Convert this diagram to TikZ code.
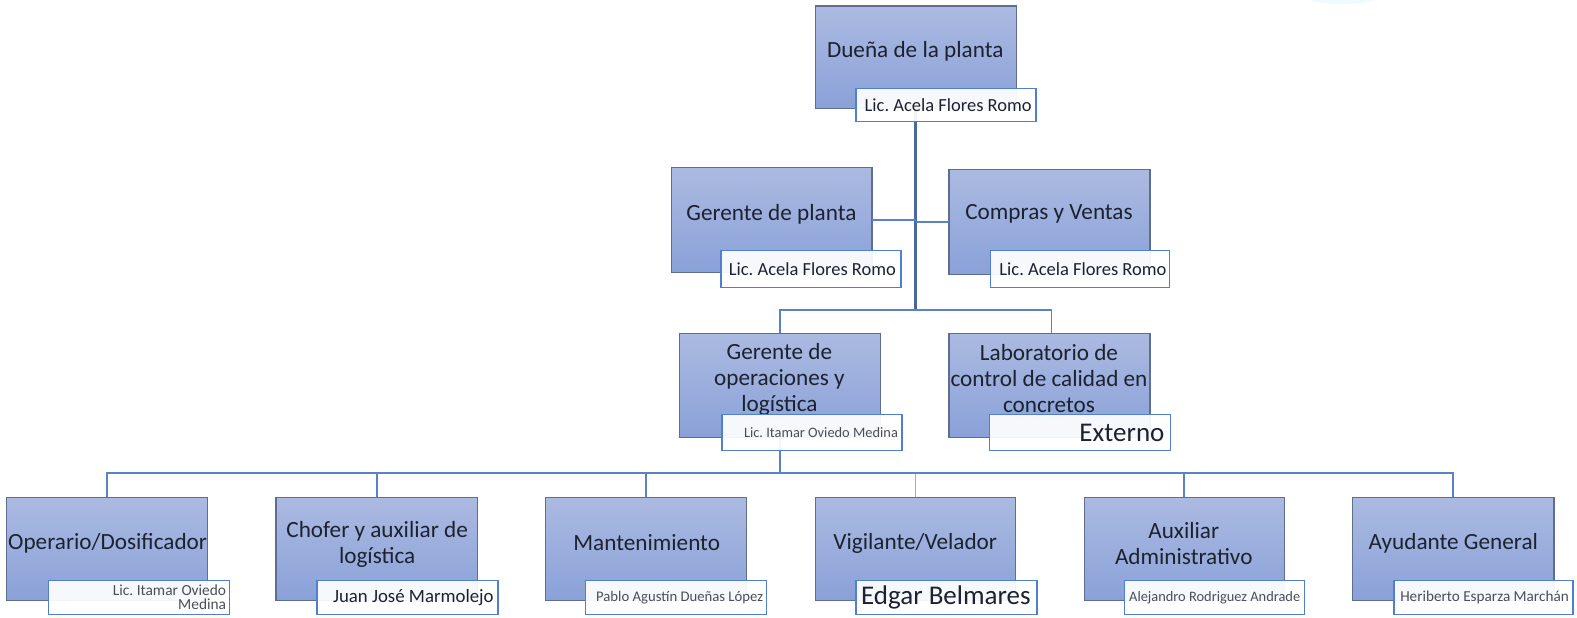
\documentclass[tikz,border=0pt]{standalone}
\usepackage{fontspec}
\setmainfont{Carlito}
\frenchspacing
\usetikzlibrary{calc,shadings}
\definecolor{boxtop}{HTML}{ABBAE1}
\definecolor{boxbot}{HTML}{8AA1D8}
\definecolor{boxline}{HTML}{5F6E90}
\definecolor{nameline}{HTML}{4F7FD0}
\definecolor{connline}{HTML}{5A82C6}
\definecolor{inktext}{HTML}{1C2230}
\definecolor{graytext}{HTML}{4A4E58}
\newcommand{\fs}[1]{\fontsize{#1}{#1}\selectfont}
\tikzset{
  unitbox/.style={draw=boxline,line width=1.3pt,top color=boxtop,bottom color=boxbot,inner sep=0pt,outer sep=0pt},
  unittext/.style={text=inktext,align=center,inner sep=0pt,font=\fs{23.2}},
  namebox/.style={draw=nameline,line width=1.5pt,fill=white,fill opacity=.93,inner sep=0pt,outer sep=0pt},
  nametext/.style={anchor=east,align=right,inner sep=0pt,text=inktext},
  conn/.style={draw=connline,line width=1.8pt},
  trunk/.style={draw=connline!80!black,line width=2.8pt}
}
% id, x0, y0, x1, y1, text x, text y, text
\newcommand{\unit}[8]{%
  \node[unitbox,minimum width=#4*1.0057pt-#2*1.0057pt,minimum height=#5*1.0057pt-#3*1.0057pt] (#1) at ({(#2+#4)/2},{(#3+#5)/2}) {};
  \node[unittext] (#1t) at (#6,#7) {#8};}
% id, x0, y0, x1, y1, text right x, style, text
\newcommand{\who}[8]{%
  \node[namebox,minimum width=#4*1.0057pt-#2*1.0057pt,minimum height=#5*1.0057pt-#3*1.0057pt] (#1) at ({(#2+#4)/2},{(#3+#5)/2}) {};
  \node[nametext,#7] (#1t) at (#6,{(#3+#5)/2}) {#8};}
\begin{document}
\begin{tikzpicture}[x=1.0057pt,y=-1.0057pt]
\useasboundingbox (0,0) rectangle (1568,613.5);
\begin{scope}
\clip (0,0) rectangle (1568,613.5);
\fill[blue!30!cyan!20,opacity=.35] (1335,-3) ellipse (36 and 7);
\end{scope}
% units
\unit{own}{810.5}{6}{1010.5}{108}{910}{51}{Dueña de la planta}
\unit{gp}{667.5}{166.5}{867}{271}{767}{213}{Gerente de planta}
\unit{cv}{943.5}{168.5}{1143.5}{273}{1043}{213}{Compras y Ventas}
\unit{gop}{675.5}{331.5}{875.5}{435}{775}{377}{Gerente de\\[2.8pt]operaciones y\\[2.8pt]logística}
\unit{lab}{943.5}{331.5}{1143.5}{435}{1043}{376}{Laboratorio de\\[2.8pt]control de calidad en\\[2.8pt]concretos}
\unit{op}{6.5}{494.5}{206}{597}{107}{540}{Operario/Dosificador}
\unit{ch}{274.5}{494.5}{475}{597}{375}{541}{Chofer y auxiliar de\\[2.8pt]logística}
\unit{ma}{542.5}{494.5}{742.5}{597}{643}{539.5}{Mantenimiento}
\unit{vi}{810.5}{494.5}{1010}{597}{910}{540}{Vigilante/Velador}
\unit{au}{1078}{494.5}{1277}{597}{1177}{540}{Auxiliar\\[2.8pt]Administrativo}
\unit{ay}{1344.5}{494.5}{1545}{597}{1445}{540}{Ayudante General}
% junctions
\coordinate (j1) at (own.south |- 0,308);
\coordinate (j2) at (gop.south |- 0,470);
% connectors
\draw[trunk] (own.south) -- (j1);
\draw[conn] (gp.east) -- (gp.east -| own.south);
\draw[conn] (cv.west) -- (cv.west -| own.south);
\draw[conn] (gop.north) |- (j1) -| ([xshift=2pt]lab.north);
\draw[conn,line width=2.4pt] (gop.south) -- (j2);
\draw[conn] (op.north) |- (j2);
\draw[conn] (ch.north) |- (j2);
\draw[conn] (ma.north) |- (j2);
\draw[conn,draw=connline!60] (vi.north) -- (vi.north |- j2);
\draw[conn] (j2) -| (au.north);
\draw[conn] (j2) -| (ay.north);
% name boxes
\who{ownn}{851}{88}{1030}{121}{1026}{font=\fs{18.5}}{Lic. Acela Flores Romo}
\who{gpn}{717}{249}{896}{286}{891}{font=\fs{18.5}}{Lic. Acela Flores Romo}
\who{cvn}{985}{249}{1163}{286}{1160}{font=\fs{18.5}}{Lic. Acela Flores Romo}
\who{gopn}{718}{412}{897}{448}{893}{font=\fs{14.4},text=graytext}{Lic. Itamar Oviedo Medina}
\who{labn}{984}{412}{1164}{448}{1158}{font=\fs{27}}{Externo}
\who{opn}{48}{577}{228}{611}{225}{font=\fs{15.4},text=graytext}{Lic. Itamar Oviedo\\[-1pt]Medina}
\who{chn}{315}{577}{495}{611}{491}{font=\fs{18.8}}{Juan José Marmolejo}
\who{man}{582}{577}{762}{611}{759}{font=\fs{14.7},text=graytext}{Pablo Agustín Dueñas López}
\who{vin}{851}{577}{1031}{611}{1025}{font=\fs{27}}{Edgar Belmares}
\who{aun}{1118}{577}{1297}{611}{1293}{font=\fs{14.4},text=graytext}{Alejandro Rodriguez Andrade}
\who{ayn}{1386}{577}{1564}{611}{1560}{font=\fs{15.2},text=graytext}{Heriberto Esparza Marchán}
\end{tikzpicture}
\end{document}
